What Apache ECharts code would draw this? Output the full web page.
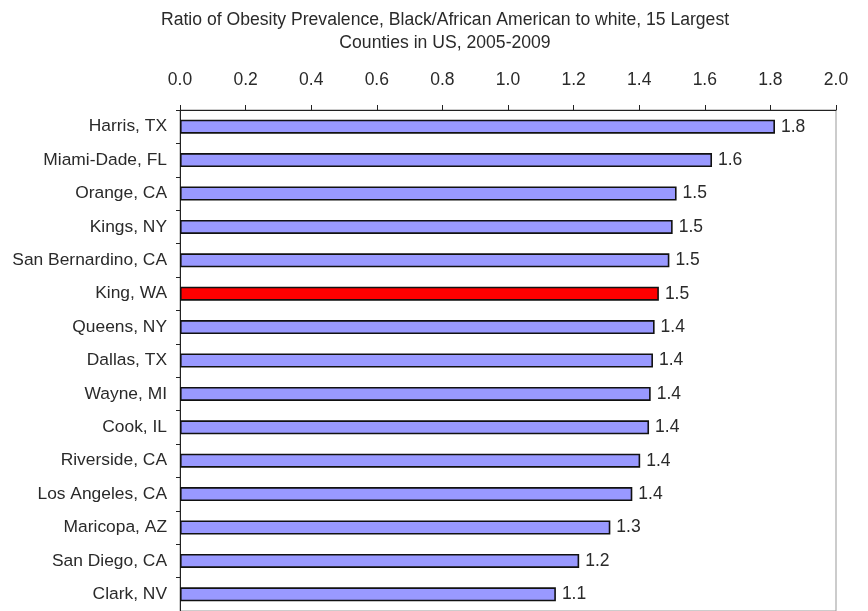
<!DOCTYPE html>
<html>
<head>
<meta charset="utf-8">
<script src="https://cdn.jsdelivr.net/npm/echarts@6/dist/echarts.min.js"></script>
<style>html,body{margin:0;padding:0;background:#fff}#c{width:868px;height:611px}</style>
</head>
<body>
<div id="c"></div>
<script>
var categories = ["Harris, TX","Miami-Dade, FL","Orange, CA","Kings, NY","San Bernardino, CA","King, WA","Queens, NY","Dallas, TX","Wayne, MI","Cook, IL","Riverside, CA","Los Angeles, CA","Maricopa, AZ","San Diego, CA","Clark, NV"];
var values = [1.814,1.622,1.514,1.502,1.492,1.460,1.447,1.442,1.435,1.430,1.403,1.379,1.312,1.217,1.146];
var highlight = "King, WA";
var titleText = "Ratio of Obesity Prevalence, Black/African American to white, 15 Largest\nCounties in US, 2005-2009";

var font = "Liberation Sans, Arial, sans-serif";
var chart = echarts.init(document.getElementById('c'));
chart.setOption({
  animation: false,
  title: {
    text: titleText,
    left: 440, textAlign: 'center', top: 4,
    textStyle: {fontFamily: font, fontSize: 17.6, fontWeight: 'normal', color: '#2a2a2a', lineHeight: 23}
  },
  grid: {left: 180, right: 32, top: 110, height: 506, show: true, borderColor: '#999', borderWidth: 1},
  xAxis: {
    type: 'value', position: 'top', min: 0, max: 2, interval: 0.2,
    axisLine: {show: true, lineStyle: {color: '#222', width: 1}},
    axisTick: {show: true, length: 5, lineStyle: {color: '#222'}},
    splitLine: {show: false},
    axisLabel: {formatter: function(v){return v.toFixed(1);}, fontFamily: font, fontSize: 17.5, color: '#2a2a2a', margin: 21}
  },
  yAxis: {
    type: 'category', inverse: true, data: categories,
    axisLine: {show: true, lineStyle: {color: '#222', width: 1}},
    axisTick: {show: true, length: 4, lineStyle: {color: '#222'}},
    axisLabel: {fontFamily: font, fontSize: 17.4, color: '#2a2a2a', margin: 13}
  },
  series: [{
    type: 'bar',
    data: values.map(function(v, i){
      return {value: v, itemStyle: {color: categories[i] === highlight ? '#FF0000' : '#9999FF'}};
    }),
    barWidth: 14,
    itemStyle: {borderColor: '#111', borderWidth: 1.6},
    label: {show: true, position: 'right', distance: 6, formatter: function(p){return p.value.toFixed(1);}, fontFamily: font, fontSize: 17.5, color: '#2a2a2a'}
  }]
});
</script>
</body>
</html>
